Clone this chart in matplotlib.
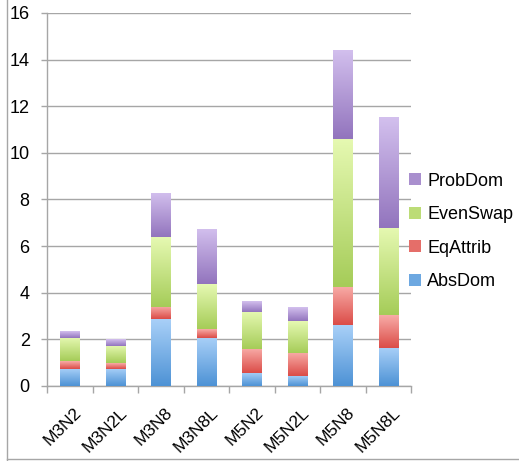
import matplotlib
matplotlib.use("Agg")
import matplotlib.pyplot as plt
import matplotlib.transforms as mtransforms
import numpy as np
from matplotlib.colors import LinearSegmentedColormap
from matplotlib.patches import Patch
from matplotlib.lines import Line2D

# data
categories = ['M3N2', 'M3N2L', 'M3N8', 'M3N8L', 'M5N2', 'M5N2L', 'M5N8', 'M5N8L']
abs_dom = [0.73, 0.73, 2.87, 2.07, 0.56, 0.44, 2.59, 1.64]
eq_attrib = [0.34, 0.23, 0.52, 0.38, 1.03, 0.99, 1.66, 1.38]
even_swap = [1.00, 0.73, 3.00, 1.93, 1.59, 1.37, 6.35, 3.76]
prob_dom = [0.29, 0.30, 1.89, 2.36, 0.47, 0.60, 3.82, 4.75]

series = [('AbsDom', abs_dom, '#a9d0f8', '#4d92d5'),
          ('EqAttrib', eq_attrib, '#f8aca8', '#db4c47'),
          ('EvenSwap', even_swap, '#e6f9b2', '#a5cc58'),
          ('ProbDom', prob_dom, '#d3c0ee', '#9274bd')]

plt.rcParams['font.family'] = ['Liberation Sans', 'DejaVu Sans']
fig = plt.figure(figsize=(5.19, 4.61), dpi=100)
ax = fig.add_axes([0.0906, 0.163, 0.7014, 0.809])

x = np.arange(len(categories))
bottom = np.zeros(len(categories))
grad = np.linspace(0, 1, 256).reshape(-1, 1)
handles = []
for name, vals, top_c, bot_c in series:
    bars = ax.bar(x, vals, 0.42, bottom=bottom, color='none', edgecolor='none', zorder=3)
    cmap = LinearSegmentedColormap.from_list(name, [bot_c, top_c])
    for b in bars:
        x0, y0 = b.get_x(), b.get_y()
        im = ax.imshow(grad, cmap=cmap, origin='lower', aspect='auto',
                       extent=[x0, x0 + b.get_width(), y0, y0 + b.get_height()],
                       zorder=3, interpolation='bilinear')
        im.set_clip_path(b)
    handles.append(Patch(facecolor=cmap(0.35), edgecolor='none', label=name))
    bottom += np.array(vals)

ax.set_xlim(-0.5, len(categories) - 0.5)
ax.set_ylim(0, 16)
ax.set_yticks(range(0, 17, 2))
ax.yaxis.grid(True, color='#a6a6a6', linewidth=1.0, zorder=0)
ax.set_axisbelow(True)
for s in ['top', 'right']:
    ax.spines[s].set_visible(False)
for s in ['left', 'bottom']:
    ax.spines[s].set_color('#a6a6a6')
    ax.spines[s].set_linewidth(1.0)

ax.set_xticks(x)
ax.set_xticklabels(categories, rotation=45, ha='right', rotation_mode='anchor', fontsize=12.5)
ax.tick_params(axis='x', which='major', length=0, pad=14)
shift = mtransforms.ScaledTranslation(4 / 100, 0, fig.dpi_scale_trans)
for lbl in ax.get_xticklabels():
    lbl.set_transform(lbl.get_transform() + shift)
ax.set_xticks(np.arange(-0.5, len(categories)), minor=True)
ax.tick_params(axis='x', which='minor', length=5, color='#a6a6a6', width=1.0)
ax.tick_params(axis='y', length=4.5, color='#a6a6a6', width=1.0, labelsize=13, pad=8)

leg = ax.legend(handles[::-1], [h.get_label() for h in handles[::-1]],
                loc='center left', bbox_to_anchor=(0.995, 0.414), frameon=False,
                borderaxespad=0, borderpad=0,
                fontsize=13, handlelength=0.65, handleheight=0.65, handletextpad=0.35,
                labelspacing=0.92)

# outer chart frame (left and bottom edges visible)
fig.add_artist(Line2D([0.013, 0.013], [0.0, 1.0], color='#a6a6a6', linewidth=1.0,
                      transform=fig.transFigure))
fig.add_artist(Line2D([0.013, 1.0], [0.004, 0.004], color='#a6a6a6', linewidth=1.0,
                      transform=fig.transFigure))

fig.savefig('out.png', dpi=100)
